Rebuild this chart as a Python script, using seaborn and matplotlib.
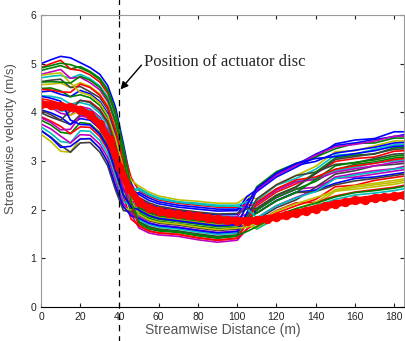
import matplotlib
matplotlib.use('Agg')
import numpy as np
import pandas as pd
import matplotlib.pyplot as plt
import seaborn as sns

# streamwise positions (m) of the ensemble samples
dist = [0, 5, 10, 15, 20, 25, 30, 34, 38, 42, 46, 50, 55, 60, 70, 80, 90, 100,
        105, 110, 120, 130, 140, 150, 160, 170, 180, 185]

# ensemble members, velocity (m/s)
m01 = [5.0, 5.08, 5.15, 5.12, 5.02, 4.92, 4.78, 4.55, 4.1, 3.35, 2.54, 2.22, 2.11, 2.04, 1.98, 1.93, 1.89, 1.9, 2.19, 2.37, 2.67, 2.87, 3.08, 3.35, 3.43, 3.46, 3.6, 3.6]
m02 = [4.86, 4.91, 4.96, 4.89, 4.94, 4.84, 4.7, 4.47, 4.02, 3.27, 2.4, 1.96, 1.86, 1.8, 1.75, 1.7, 1.65, 1.67, 2.1, 2.47, 2.78, 2.95, 3.08, 3.25, 3.36, 3.37, 3.47, 3.47]
m03 = [4.92, 5.0, 5.07, 4.89, 4.86, 4.77, 4.62, 4.39, 3.93, 3.21, 2.65, 2.39, 2.28, 2.2, 2.13, 2.09, 2.05, 2.05, 2.1, 2.08, 2.36, 2.53, 2.74, 2.99, 3.05, 3.08, 3.2, 3.21]
m04 = [4.71, 4.74, 4.76, 4.7, 4.78, 4.69, 4.54, 4.31, 3.85, 3.13, 2.2, 1.79, 1.69, 1.64, 1.6, 1.54, 1.49, 1.52, 1.81, 2.18, 2.5, 2.64, 2.83, 3.12, 3.14, 3.24, 3.33, 3.34]
m05 = [4.78, 4.83, 4.88, 4.7, 4.72, 4.61, 4.46, 4.22, 3.76, 3.08, 2.44, 2.14, 2.02, 1.96, 1.9, 1.85, 1.81, 1.83, 1.91, 1.99, 2.25, 2.42, 2.46, 2.64, 2.67, 2.73, 2.79, 2.82]
m06 = [4.57, 4.58, 4.6, 4.51, 4.61, 4.53, 4.38, 4.14, 3.68, 3.0, 2.6, 2.48, 2.36, 2.28, 2.2, 2.17, 2.13, 2.13, 2.27, 2.22, 2.51, 2.7, 2.89, 3.19, 3.21, 3.31, 3.41, 3.41]
m07 = [4.63, 4.66, 4.68, 4.51, 4.53, 4.42, 4.3, 4.06, 3.59, 2.94, 2.24, 1.88, 1.77, 1.72, 1.68, 1.62, 1.57, 1.6, 1.72, 1.79, 2.04, 2.2, 2.46, 2.73, 2.8, 2.9, 2.93, 2.95]
m08 = [4.42, 4.44, 4.37, 4.32, 4.45, 4.38, 4.22, 3.98, 3.51, 2.86, 2.4, 2.31, 2.19, 2.12, 2.05, 2.01, 1.97, 1.98, 2.27, 2.41, 2.72, 2.92, 3.14, 3.32, 3.37, 3.44, 3.5, 3.54]
m09 = [4.49, 4.5, 4.44, 4.32, 4.36, 4.3, 4.14, 3.89, 3.42, 2.8, 2.03, 1.71, 1.6, 1.56, 1.53, 1.46, 1.41, 1.45, 1.72, 1.99, 2.25, 2.42, 2.58, 2.82, 2.93, 2.98, 3.06, 3.08]
m10 = [4.28, 4.24, 4.18, 4.13, 4.24, 4.22, 4.06, 3.81, 3.34, 2.72, 2.2, 2.05, 1.94, 1.88, 1.83, 1.78, 1.73, 1.75, 1.72, 1.69, 1.93, 2.08, 2.21, 2.47, 2.5, 2.6, 2.66, 2.69]
m11 = [4.34, 4.33, 4.29, 4.17, 4.2, 4.15, 3.98, 3.73, 3.25, 2.67, 2.4, 2.44, 2.32, 2.24, 2.16, 2.13, 2.09, 2.09, 2.16, 2.12, 2.4, 2.58, 2.64, 2.8, 2.87, 2.96, 3.0, 3.02]
m12 = [4.13, 4.1, 3.98, 3.94, 4.12, 4.07, 3.9, 3.65, 3.17, 2.59, 1.9, 1.62, 1.52, 1.48, 1.45, 1.38, 1.33, 1.37, 1.6, 1.83, 2.08, 2.25, 2.4, 2.67, 2.74, 2.8, 2.84, 2.89]
m13 = [4.2, 4.16, 4.1, 3.94, 4.03, 4.02, 3.82, 3.56, 3.08, 2.53, 2.2, 2.1, 1.98, 1.92, 1.86, 1.81, 1.77, 1.79, 1.7, 1.6, 1.83, 1.97, 2.08, 2.38, 2.42, 2.47, 2.52, 2.56]
m14 = [3.99, 3.9, 3.83, 3.75, 3.95, 3.91, 3.74, 3.48, 3.0, 2.45, 1.97, 1.75, 1.65, 1.6, 1.56, 1.5, 1.45, 1.48, 1.88, 2.22, 2.51, 2.7, 2.77, 2.93, 2.96, 3.05, 3.14, 3.15]
m15 = [4.05, 3.99, 3.9, 3.75, 3.87, 3.84, 3.66, 3.4, 2.91, 2.39, 2.3, 2.35, 2.24, 2.16, 2.09, 2.05, 2.01, 2.01, 2.06, 1.93, 2.19, 2.36, 2.4, 2.54, 2.64, 2.67, 2.73, 2.76]
m16 = [3.84, 3.74, 3.59, 3.56, 3.79, 3.76, 3.58, 3.32, 2.83, 2.31, 1.98, 1.92, 1.82, 1.76, 1.71, 1.66, 1.61, 1.63, 1.88, 2.02, 2.3, 2.47, 2.77, 3.06, 3.12, 3.14, 3.27, 3.28]
m17 = [3.91, 3.82, 3.71, 3.56, 3.7, 3.69, 3.5, 3.23, 2.74, 2.25, 1.8, 1.67, 1.56, 1.52, 1.49, 1.42, 1.37, 1.41, 1.6, 1.73, 1.98, 2.14, 2.15, 2.28, 2.36, 2.41, 2.46, 2.5]
m18 = [3.7, 3.57, 3.4, 3.37, 3.62, 3.61, 3.42, 3.15, 2.66, 2.17, 2.08, 2.18, 2.07, 2.0, 1.94, 1.89, 1.85, 1.86, 1.79, 1.6, 1.83, 1.97, 2.08, 2.21, 2.3, 2.34, 2.39, 2.43]
m19 = [3.76, 3.66, 3.51, 3.37, 3.54, 3.53, 3.34, 3.07, 2.57, 2.12, 1.9, 1.84, 1.73, 1.68, 1.64, 1.58, 1.53, 1.56, 1.8, 2.12, 2.4, 2.57, 2.62, 2.77, 2.84, 2.9, 2.97, 2.99]
m20 = [3.55, 3.4, 3.2, 3.18, 3.46, 3.45, 3.26, 2.99, 2.49, 2.04, 1.98, 2.01, 1.9, 1.84, 1.79, 1.74, 1.69, 1.71, 1.68, 1.63, 1.87, 2.02, 2.15, 2.41, 2.49, 2.54, 2.6, 2.63]
m21 = [3.62, 3.49, 3.32, 3.18, 3.37, 3.38, 3.18, 2.9, 2.4, 1.98, 1.96, 2.03, 1.97, 1.91, 1.86, 1.81, 1.76, 1.78, 1.84, 1.93, 2.18, 2.35, 2.37, 2.51, 2.59, 2.64, 2.7, 2.73]
m22 = [3.63, 3.48, 3.28, 3.3, 3.45, 3.46, 3.26, 2.98, 2.48, 2.06, 1.87, 1.82, 1.72, 1.67, 1.63, 1.57, 1.52, 1.55, 1.94, 2.41, 2.71, 2.91, 2.99, 3.16, 3.22, 3.28, 3.37, 3.38]
m23 = [4.91, 4.96, 5.01, 4.98, 4.91, 4.82, 4.67, 4.44, 3.98, 3.26, 2.46, 2.04, 1.93, 1.87, 1.82, 1.77, 1.72, 1.74, 1.82, 1.93, 2.18, 2.35, 2.62, 2.9, 2.97, 3.02, 3.1, 3.12]
m24 = [4.47, 4.46, 4.42, 4.41, 4.58, 4.51, 4.35, 4.11, 3.64, 2.99, 2.1, 1.66, 1.56, 1.52, 1.49, 1.42, 1.37, 1.41, 1.72, 2.15, 2.43, 2.61, 2.67, 2.83, 2.9, 2.95, 3.03, 3.05]
m25 = [4.18, 4.12, 4.03, 4.03, 4.08, 4.04, 3.87, 3.61, 3.13, 2.58, 2.37, 2.41, 2.3, 2.22, 2.15, 2.11, 2.07, 2.07, 2.02, 1.83, 2.08, 2.24, 2.37, 2.64, 2.71, 2.77, 2.83, 2.86]
m26 = [3.89, 3.79, 3.64, 3.65, 3.92, 3.89, 3.71, 3.45, 2.96, 2.44, 2.16, 2.16, 2.04, 1.98, 1.92, 1.87, 1.83, 1.85, 2.12, 2.41, 2.71, 2.91, 3.12, 3.29, 3.34, 3.41, 3.51, 3.51]
m27 = [4.76, 4.79, 4.81, 4.6, 4.41, 4.35, 4.19, 3.94, 3.47, 2.85, 2.16, 1.9, 1.79, 1.74, 1.7, 1.64, 1.59, 1.62, 1.64, 1.73, 1.97, 2.12, 2.25, 2.38, 2.46, 2.51, 2.56, 2.6]
m28 = [4.04, 3.95, 3.84, 4.03, 4.25, 4.2, 4.03, 3.78, 3.3, 2.72, 2.36, 2.25, 2.14, 2.07, 2.0, 1.95, 1.91, 1.92, 2.02, 2.03, 2.29, 2.46, 2.74, 3.03, 3.09, 3.15, 3.24, 3.25]
m29 = [4.33, 4.29, 4.23, 3.84, 3.75, 3.74, 3.55, 3.28, 2.79, 2.3, 2.05, 1.99, 1.88, 1.82, 1.77, 1.72, 1.67, 1.69, 2.1, 2.44, 2.75, 2.95, 3.05, 3.09, 3.15, 3.21, 3.3, 3.31]
m30 = [4.62, 4.63, 4.62, 4.6, 4.74, 4.66, 4.51, 4.27, 3.81, 3.13, 2.15, 1.74, 1.62, 1.58, 1.55, 1.48, 1.43, 1.47, 1.55, 1.65, 1.88, 2.02, 2.13, 2.26, 2.35, 2.39, 2.44, 2.48]

# thick red profile
red_dist = [0, 5, 10, 15, 20, 25, 30, 35, 40, 45, 50, 55, 60, 65, 70, 75, 80, 85, 90, 95,
            100, 105, 110, 115, 120, 125, 130, 135, 140, 145, 150, 155, 160, 165, 170, 175, 180, 185]
red_vel = [4.17, 4.15, 4.12, 4.1, 4.05, 3.95, 3.75, 3.43, 2.88, 2.43, 2.15, 2.03, 1.97, 1.93, 1.9, 1.88,
           1.86, 1.83, 1.8, 1.78, 1.77, 1.77, 1.78, 1.81, 1.85, 1.88, 1.93, 1.97, 2.02, 2.07, 2.12,
           2.15, 2.19, 2.2, 2.24, 2.25, 2.27, 2.3]

members = [m01, m02, m03, m04, m05, m06, m07, m08, m09, m10,
           m11, m12, m13, m14, m15, m16, m17, m18, m19, m20,
           m21, m22, m23, m24, m25, m26, m27, m28, m29, m30]
rows = []
for i, m in enumerate(members):
    for d, v in zip(dist, m):
        rows.append(('m%02d' % (i + 1), d, v))
df = pd.DataFrame(rows, columns=['member', 'dist', 'vel'])

# old MATLAB colour order
matlab = [(0, 0, 1), (0, 0.5, 0), (1, 0, 0), (0, 0.75, 0.75),
          (0.75, 0, 0.75), (0.75, 0.75, 0), (0.25, 0.25, 0.25)]
pal = [matlab[i % 7] for i in range(len(members))]

sns.set_style('ticks')
plt.rcParams['font.family'] = ['Liberation Sans', 'DejaVu Sans']

fig = plt.figure(figsize=(4.06, 3.41), dpi=100)
ax = fig.add_axes([0.101, 0.1, 0.894, 0.856])

sns.lineplot(data=df, x='dist', y='vel', hue='member', palette=pal,
             lw=1.2, legend=False, ax=ax, sort=False)
sns.lineplot(x=red_dist, y=red_vel, color='red', lw=5, marker='o', ms=6,
             mec='red', ax=ax)

ax.axvline(40, ymin=-0.12, ymax=1.06, color='black', lw=0.9,
           ls=(0, (5, 4)), clip_on=False)
ax.text(52.6, 5.04, 'Position of actuator disc', fontsize=12,
        family='Liberation Serif', va='center', ha='left')
ax.annotate('', xy=(40.5, 4.47), xytext=(51.2, 4.97),
            arrowprops=dict(arrowstyle='-|>', color='black', lw=1.0,
                            shrinkA=0, shrinkB=0, mutation_scale=11))

ax.set_xlim(0, 185)
ax.set_ylim(0, 6)
ax.set_xticks(range(0, 181, 20))
ax.set_yticks(range(0, 7))
ax.tick_params(direction='in', top=True, right=True, length=3, labelsize=7.5,
               colors='#222222')
for s in ['top', 'right', 'left']:
    ax.spines[s].set_color('#999999')
ax.spines['bottom'].set_color('black')
ax.set_xlabel('Streamwise Distance (m)', fontsize=10, color='#555555', labelpad=1)
ax.set_ylabel('Streamwise velocity (m/s)', fontsize=9.5, color='#555555')
ax.yaxis.set_label_coords(-0.067, 0.577)

fig.savefig('out.png', dpi=100)
